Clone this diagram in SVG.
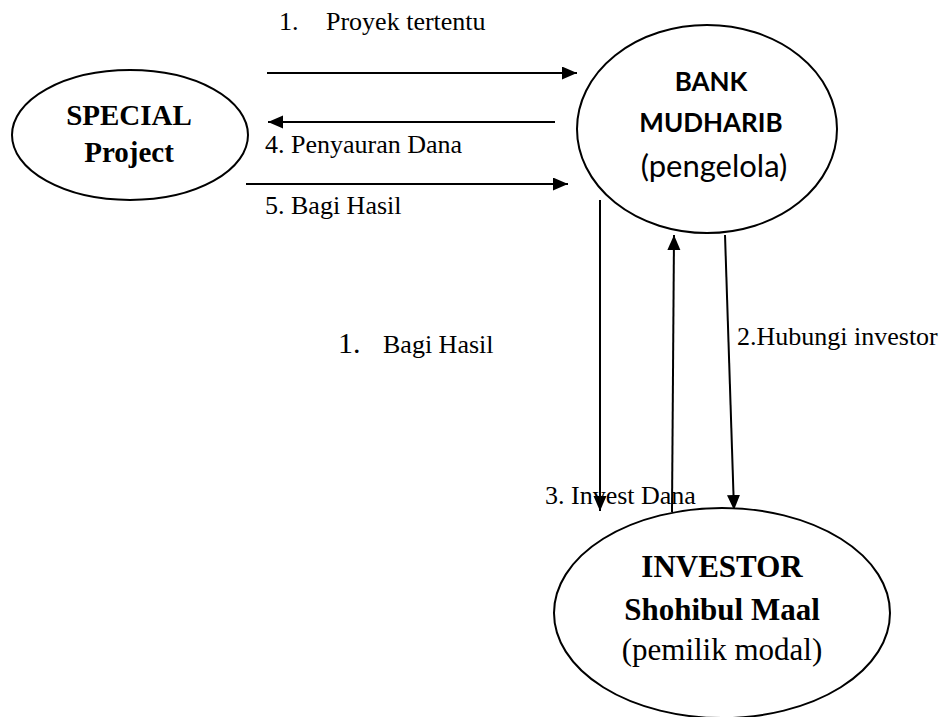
<svg xmlns="http://www.w3.org/2000/svg" width="947" height="717" viewBox="0 0 947 717">
<defs>
<marker id="ah" markerUnits="userSpaceOnUse" markerWidth="16" markerHeight="14" refX="15" refY="6.5" orient="auto">
<path d="M0,0 L15,6.5 L0,13 z" fill="#000"/>
</marker>
<style>
.node{fill:#fff;stroke:#000;stroke-width:2}
.conn{stroke:#000;stroke-width:2;fill:none;marker-end:url(#ah)}
.lbl{font-family:"Liberation Serif","Times New Roman",serif;font-size:26px;fill:#000}
.tb{font-family:"Liberation Serif","Times New Roman",serif;font-weight:bold;fill:#000;text-anchor:middle}
.tr{font-family:"Liberation Serif","Times New Roman",serif;fill:#000;text-anchor:middle}
.sb{font-family:Lato,"Liberation Sans",sans-serif;font-weight:bold;fill:#000;text-anchor:middle}
.sr{font-family:Lato,"Liberation Sans",sans-serif;fill:#000;text-anchor:middle}
</style>
</defs>
<rect width="947" height="717" fill="#fff"/>
<g id="connectors">
<line class="conn" x1="267" y1="73" x2="577" y2="73"/>
<line class="conn" x1="555" y1="122" x2="268" y2="122"/>
<line class="conn" x1="246" y1="184" x2="568" y2="184"/>
<line class="conn" x1="600" y1="200" x2="600" y2="511"/>
<line class="conn" x1="672" y1="512" x2="674" y2="235"/>
<line class="conn" x1="725" y1="235" x2="734" y2="510"/>
</g>
<g id="labels">
<text class="lbl" x="279" y="30">1.</text>
<text class="lbl" x="326" y="30">Proyek tertentu</text>
<text class="lbl" x="265" y="153">4. Penyauran Dana</text>
<text class="lbl" x="265" y="214">5. Bagi Hasil</text>
<text class="lbl" x="338" y="353" style="font-size:30px">1.</text>
<text class="lbl" x="383" y="353">Bagi Hasil</text>
<text class="lbl" x="737" y="345">2.Hubungi investor</text>
<text class="lbl" x="545" y="504">3. Invest Dana</text>
</g>
<g id="special">
<ellipse class="node" cx="130" cy="135" rx="118" ry="65"/>
<text class="tb" x="129" y="125" font-size="29">SPECIAL</text>
<text class="tb" x="129" y="162" font-size="29">Project</text>
</g>
<g id="bank">
<ellipse class="node" cx="707" cy="129" rx="130" ry="104"/>
<text class="sb" x="711" y="91" font-size="26">BANK</text>
<text class="sb" x="711" y="132" font-size="26">MUDHARIB</text>
<text class="sr" x="714" y="177" font-size="31">(pengelola)</text>
</g>
<g id="investor">
<ellipse class="node" cx="722" cy="613" rx="168" ry="105"/>
<text class="tb" x="722" y="577" font-size="31">INVESTOR</text>
<text class="tb" x="722" y="620" font-size="31">Shohibul Maal</text>
<text class="tr" x="722" y="660" font-size="31">(pemilik modal)</text>
</g>
</svg>
